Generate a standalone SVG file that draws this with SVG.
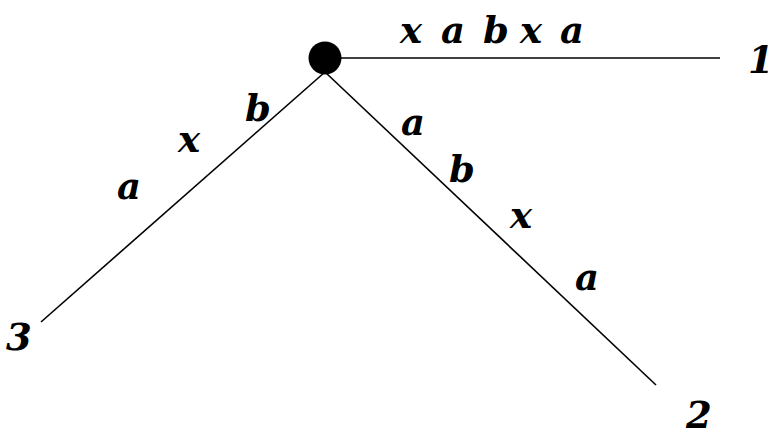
<svg xmlns="http://www.w3.org/2000/svg" width="773" height="438" viewBox="0 0 773 438">
<style>
.lbl{font-family:"DejaVu Serif","Liberation Serif",serif;font-weight:bold;font-style:italic;font-size:37px;fill:#000}
.edge{stroke:#000;stroke-width:1.6;fill:none}
</style>
<rect width="773" height="438" fill="#fff"/>
<g id="connectors">
<line class="edge" x1="330" y1="58" x2="720" y2="58"/>
<line class="edge" x1="325" y1="72" x2="41" y2="322"/>
<line class="edge" x1="325" y1="72" x2="656" y2="385"/>
</g>
<g id="root"><circle cx="325" cy="58" r="16.5" fill="#000"/></g>
<g id="leaf1"><text class="lbl" x="748" y="73">1</text></g>
<g id="leaf2"><text class="lbl" x="686" y="428">2</text></g>
<g id="leaf3"><text class="lbl" x="6" y="350">3</text></g>
<g id="labels">
<text class="lbl" y="43"><tspan x="400">x</tspan><tspan x="441">a</tspan><tspan x="483">b</tspan><tspan x="520">x</tspan><tspan x="560">a</tspan></text>
<text class="lbl" x="245" y="121">b</text>
<text class="lbl" x="178" y="152">x</text>
<text class="lbl" x="117" y="199">a</text>
<text class="lbl" x="401" y="135">a</text>
<text class="lbl" x="449" y="182">b</text>
<text class="lbl" x="510" y="228">x</text>
<text class="lbl" x="575" y="290">a</text>
</g>
</svg>
